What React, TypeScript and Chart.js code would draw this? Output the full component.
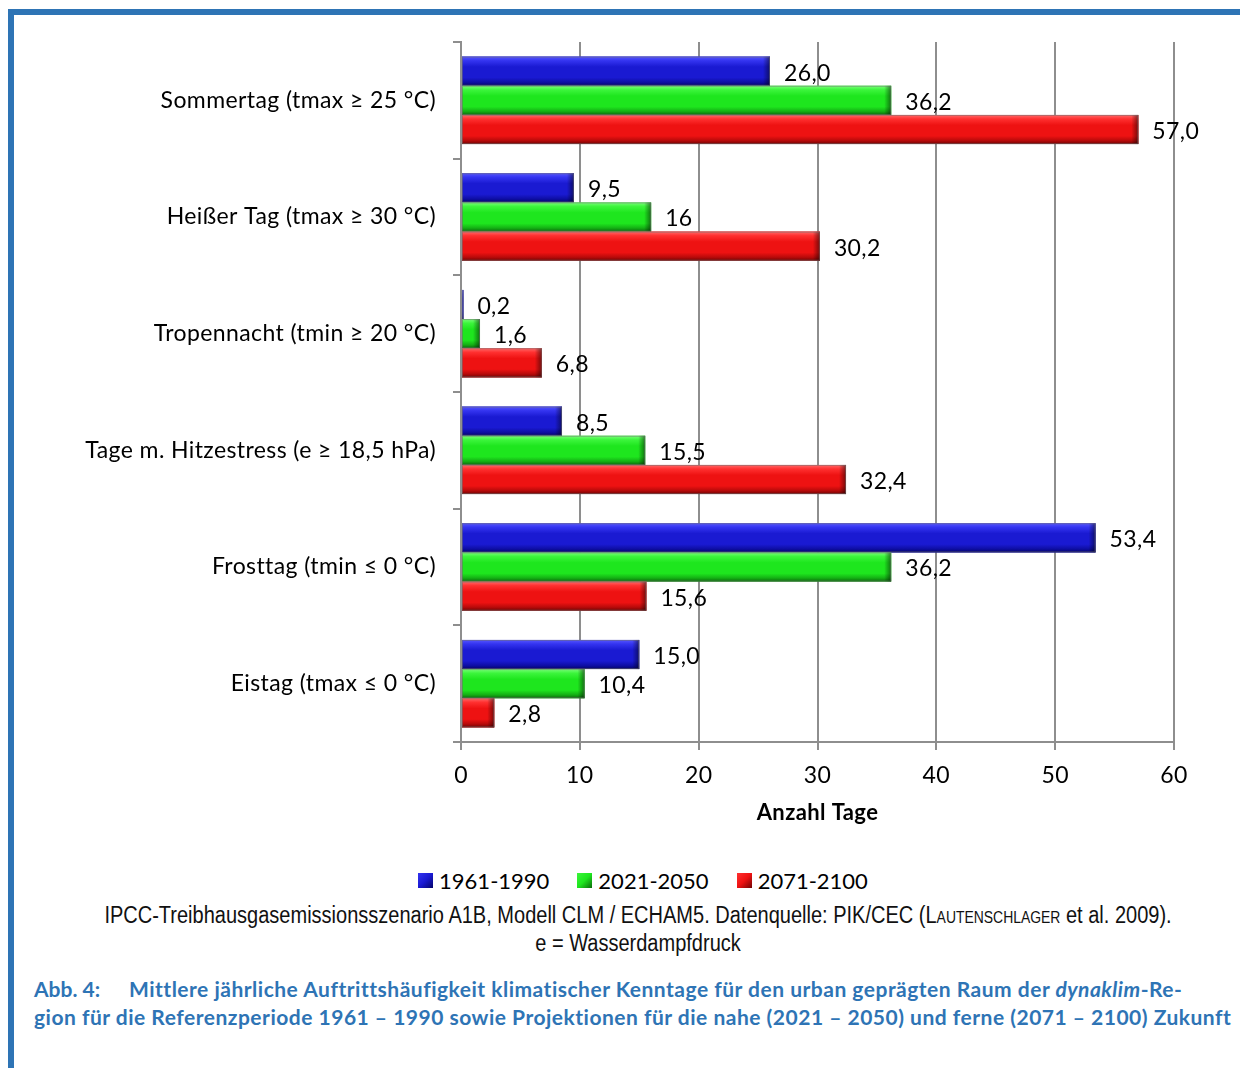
import React, { useEffect, useRef } from "react";
import { Chart, registerables } from "chart.js";

Chart.register(...registerables);

const categories = [
  "Sommertag (tmax ≥ 25 °C)",
  "Heißer Tag (tmax ≥ 30 °C)",
  "Tropennacht (tmin ≥ 20 °C)",
  "Tage m. Hitzestress (e ≥ 18,5 hPa)",
  "Frosttag (tmin ≤ 0 °C)",
  "Eistag (tmax ≤ 0 °C)",
];

const seriesNames = ["1961-1990", "2021-2050", "2071-2100"];

const values1961 = [26.0, 9.5, 0.2, 8.5, 53.4, 15.0];
const values2021 = [36.2, 16, 1.6, 15.5, 36.2, 10.4];
const values2071 = [57.0, 30.2, 6.8, 32.4, 15.6, 2.8];

const labels1961 = ["26,0", "9,5", "0,2", "8,5", "53,4", "15,0"];
const labels2021 = ["36,2", "16", "1,6", "15,5", "36,2", "10,4"];
const labels2071 = ["57,0", "30,2", "6,8", "32,4", "15,6", "2,8"];

const xTicks = [0, 10, 20, 30, 40, 50, 60];

const baseColors = ["#1a1ad2", "#1ee61e", "#ee1212"];
const shades = [
  { top: "#5656ff", light: "#3434f0", mid: "#1a1ad2", dark: "#0e0ea4", bot: "#040468" },
  { top: "#7aff7a", light: "#3cf53c", mid: "#1ee61e", dark: "#14b014", bot: "#0a6a0a" },
  { top: "#ff6a6a", light: "#ff3030", mid: "#ee1212", dark: "#b80a0a", bot: "#700404" },
];

const FONT = "Lato, 'DejaVu Sans', sans-serif";

const spacing = {
  id: "spacing",
  beforeDraw(chart: any) {
    try {
      chart.ctx.letterSpacing = "0.4px";
    } catch (e) {}
  },
};

const barStyle = {
  id: "barStyle",
  afterDatasetsDraw(chart: any) {
    const ctx = chart.ctx;
    const lbls = [labels1961, labels2021, labels2071];
    chart.data.datasets.forEach((_ds: any, di: number) => {
      const meta = chart.getDatasetMeta(di);
      const sh = shades[di];
      meta.data.forEach((el: any, i: number) => {
        const { x, y, base, height } = el.getProps(["x", "y", "base", "height"], true);
        const left = Math.min(base, x);
        const right = Math.max(base, x);
        const top = y - height / 2;
        const h = height;
        ctx.save();
        if (right - left > 0.5) {
          const g = ctx.createLinearGradient(0, top, 0, top + h);
          g.addColorStop(0, sh.top);
          g.addColorStop(0.14, sh.light);
          g.addColorStop(0.35, sh.mid);
          g.addColorStop(0.72, sh.mid);
          g.addColorStop(0.88, sh.dark);
          g.addColorStop(1, sh.bot);
          ctx.fillStyle = g;
          ctx.fillRect(left, top, right - left, h);
          const bw = Math.min(7, (right - left) / 2);
          const g2 = ctx.createLinearGradient(right - bw, 0, right, 0);
          g2.addColorStop(0, "rgba(0,0,0,0)");
          g2.addColorStop(1, "rgba(0,0,0,0.5)");
          ctx.fillStyle = g2;
          ctx.fillRect(right - bw, top, bw, h);
          ctx.strokeStyle = "rgba(110,110,110,0.55)";
          ctx.lineWidth = 1;
          ctx.strokeRect(left + 0.5, top + 0.5, right - left - 1, h - 1);
        }
        ctx.fillStyle = "#000";
        ctx.font = `23px ${FONT}`;
        ctx.textAlign = "left";
        ctx.textBaseline = "middle";
        ctx.fillText(lbls[di][i], right + 14, y + 2);
        ctx.restore();
      });
    });
  },
};

function ChartCanvas() {
  const ref = useRef<HTMLCanvasElement | null>(null);
  useEffect(() => {
    if (!ref.current) return;
    const gridColor = "#8e8e8e";
    const chart = new Chart(ref.current, {
      type: "bar",
      data: {
        labels: categories,
        datasets: [
          { label: seriesNames[0], data: values1961, backgroundColor: baseColors[0] },
          { label: seriesNames[1], data: values2021, backgroundColor: baseColors[1] },
          { label: seriesNames[2], data: values2071, backgroundColor: baseColors[2] },
        ],
      },
      options: {
        indexAxis: "y",
        responsive: false,
        animation: false,
        devicePixelRatio: 1,
        datasets: { bar: { categoryPercentage: 0.75, barPercentage: 1 } },
        layout: { padding: { left: 0, right: 66, top: 42, bottom: 0 } },
        plugins: { legend: { display: false }, tooltip: { enabled: false }, title: { display: false } },
        scales: {
          x: {
            type: "linear",
            min: 0,
            max: 60,
            afterBuildTicks: (s: any) => {
              s.ticks = xTicks.map((v) => ({ value: v }));
            },
            afterFit: (s: any) => {
              s.height = 98;
            },
            grid: { color: gridColor, lineWidth: 2, tickLength: 8, drawTicks: true },
            border: { display: true, color: gridColor, width: 2 },
            ticks: { color: "#000", font: { family: FONT, size: 23 }, padding: 12 },
            title: {
              display: true,
              text: "Anzahl Tage",
              color: "#000",
              font: { family: FONT, size: 22, weight: "bold" },
              padding: { top: 0, bottom: 14 },
            },
          },
          y: {
            type: "category",
            offset: true,
            afterFit: (s: any) => {
              s.width = 461;
            },
            grid: { display: true, drawOnChartArea: false, offset: true, color: gridColor, lineWidth: 2, tickLength: 8 },
            border: { display: true, color: gridColor, width: 2 },
            ticks: { color: "#000", font: { family: FONT, size: 23 }, padding: 17 },
          },
        },
      } as any,
      plugins: [spacing, barStyle],
    });
    return () => chart.destroy();
  }, []);
  return <canvas ref={ref} width={1240} height={840} style={{ width: 1240, height: 840, display: "block" }} />;
}

const blue = "#2E74B5";

export default function App() {
  const legendItems = seriesNames.map((n, i) => (
    <span key={n} style={{ display: "inline-flex", alignItems: "center", margin: "0 14px" }}>
      <span
        style={{
          display: "inline-block",
          width: 15,
          height: 15,
          marginRight: 6,
          background: `linear-gradient(135deg, ${shades[i].light}, ${shades[i].mid} 50%, ${shades[i].bot})`,
        }}
      />
      <span>{n}</span>
    </span>
  ));
  return (
    <div style={{ position: "absolute", left: 0, top: 0, width: 1240, height: 1068, background: "#fff", overflow: "hidden" }}>
      <div style={{ position: "absolute", left: 8, top: 9, width: 1232, height: 6, background: blue }} />
      <div style={{ position: "absolute", left: 8, top: 9, width: 6, height: 1059, background: blue }} />
      <div style={{ position: "absolute", left: 0, top: 0 }}>
        <ChartCanvas />
      </div>
      <div
        style={{
          position: "absolute",
          left: 0,
          top: 866,
          width: 1286,
          textAlign: "center",
          fontFamily: FONT,
          fontSize: 22,
          lineHeight: "28px",
          color: "#000",
          whiteSpace: "nowrap",
        }}
      >
        {legendItems}
      </div>
      <div
        style={{
          position: "absolute",
          left: 0,
          top: 901,
          width: 1276,
          textAlign: "center",
          fontFamily: "'Liberation Sans', Arial, sans-serif",
          fontSize: 23,
          lineHeight: "28px",
          color: "#111",
          whiteSpace: "nowrap",
          transform: "scaleX(0.87)",
          transformOrigin: "638px 0",
        }}
      >
        <div>
          IPCC-Treibhausgasemissionsszenario A1B, Modell CLM / ECHAM5. Datenquelle: PIK/CEC (
          <span style={{ fontVariant: "small-caps" }}>Lautenschlager</span> et al. 2009).
        </div>
        <div>e = Wasserdampfdruck</div>
      </div>
      <div
        style={{
          position: "absolute",
          left: 34,
          top: 975,
          fontFamily: FONT,
          fontWeight: "bold",
          fontSize: 21,
          letterSpacing: "0.5px",
          lineHeight: "28px",
          color: blue,
          whiteSpace: "nowrap",
        }}
      >
        <div>
          <span style={{ display: "inline-block", width: 95, letterSpacing: 0 }}>Abb. 4:</span>
          Mittlere jährliche Auftrittshäufigkeit klimatischer Kenntage für den urban geprägten Raum der{" "}
          <i>dynaklim</i>-Re-
        </div>
        <div>
          gion für die Referenzperiode 1961 – 1990 sowie Projektionen für die nahe (2021 – 2050) und ferne (2071 – 2100)
          Zukunft
        </div>
      </div>
    </div>
  );
}
